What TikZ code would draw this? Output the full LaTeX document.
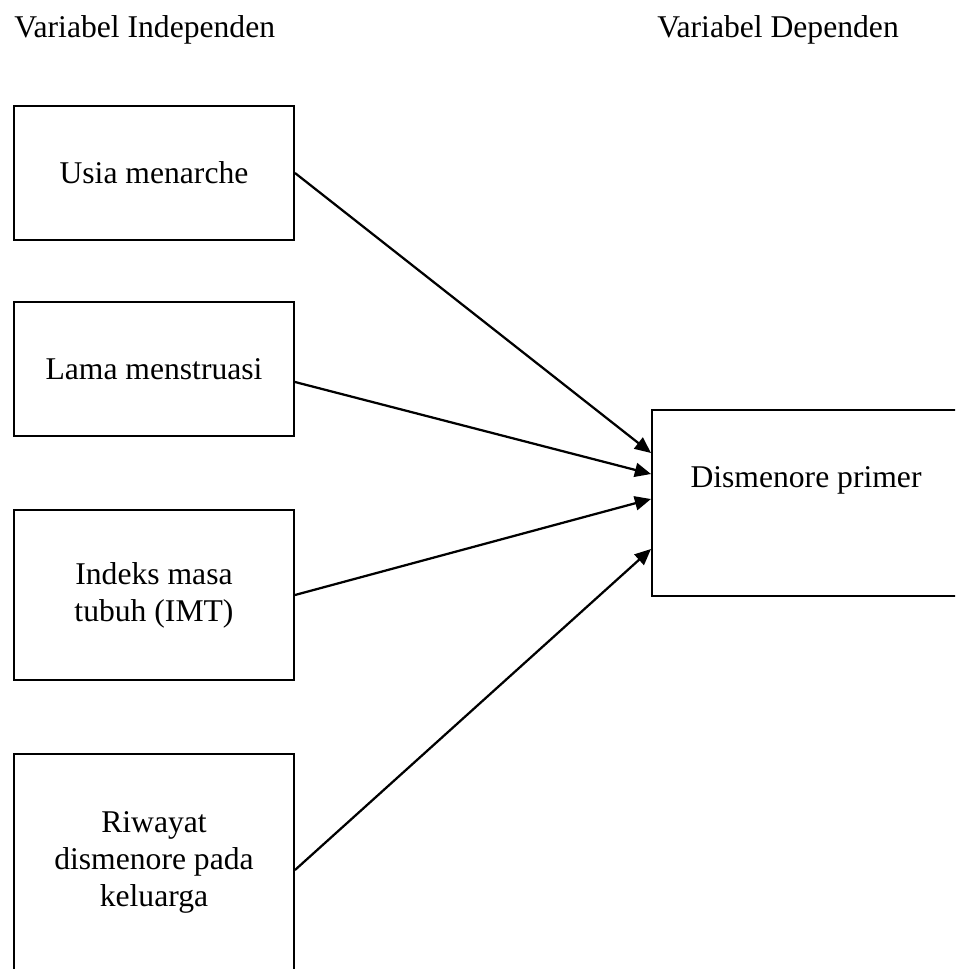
\documentclass[tikz,border=0pt]{standalone}
\usepackage{fontspec}
\setmainfont{Liberation Serif}
\usetikzlibrary{arrows.meta}
\begin{document}
\begin{tikzpicture}[font=\fontsize{22.5}{26.3}\selectfont]
			\tikzstyle{block} = [draw, rectangle, line width=1.4pt, minimum width=7cm, align=center, inner sep=0pt]
			\tikzstyle{pfeil} = [-{Triangle[length=11.5pt,width=10pt]}, line width=1.6pt]
			\useasboundingbox (0,0) rectangle (23.875,-24.225);
			\clip (0,0) rectangle (23.875,-24.225);
			\node[anchor=base west, inner sep=0pt] (indep) at (0.35,-0.95) {Variabel Independen};
			\node[anchor=base west, inner sep=0pt] (dep) at (16.425,-0.95) {Variabel Dependen};
			\node[block, minimum height=3.35cm] (usia) at (3.85,-4.325) {Usia menarche};
			\node[block, minimum height=3.35cm] (lama) at (3.85,-9.225) {Lama menstruasi};
			\node[block, minimum height=4.25cm] (imt) at (3.85,-14.875) {Indeks masa \\ tubuh (IMT)};
			\node[block, minimum height=5.4cm] (riwayat) at (3.85,-21.55) {Riwayat \\ dismenore pada \\ keluarga};
			\node[block, minimum width=7.7cm, minimum height=4.65cm, text height=0.6cm, text depth=1.4cm] (dis) at (20.15,-12.575) {Dismenore primer};
			\draw[pfeil] (usia.east) -- ([yshift=1.25cm]dis.west);
			\draw[pfeil] ([yshift=-0.325cm]lama.east) -- ([yshift=0.725cm]dis.west);
			\draw[pfeil] (imt.east) -- ([yshift=0.1cm]dis.west);
			\draw[pfeil] ([yshift=-0.2cm]riwayat.east) -- ([yshift=-1.15cm]dis.west);
\end{tikzpicture}
\end{document}
